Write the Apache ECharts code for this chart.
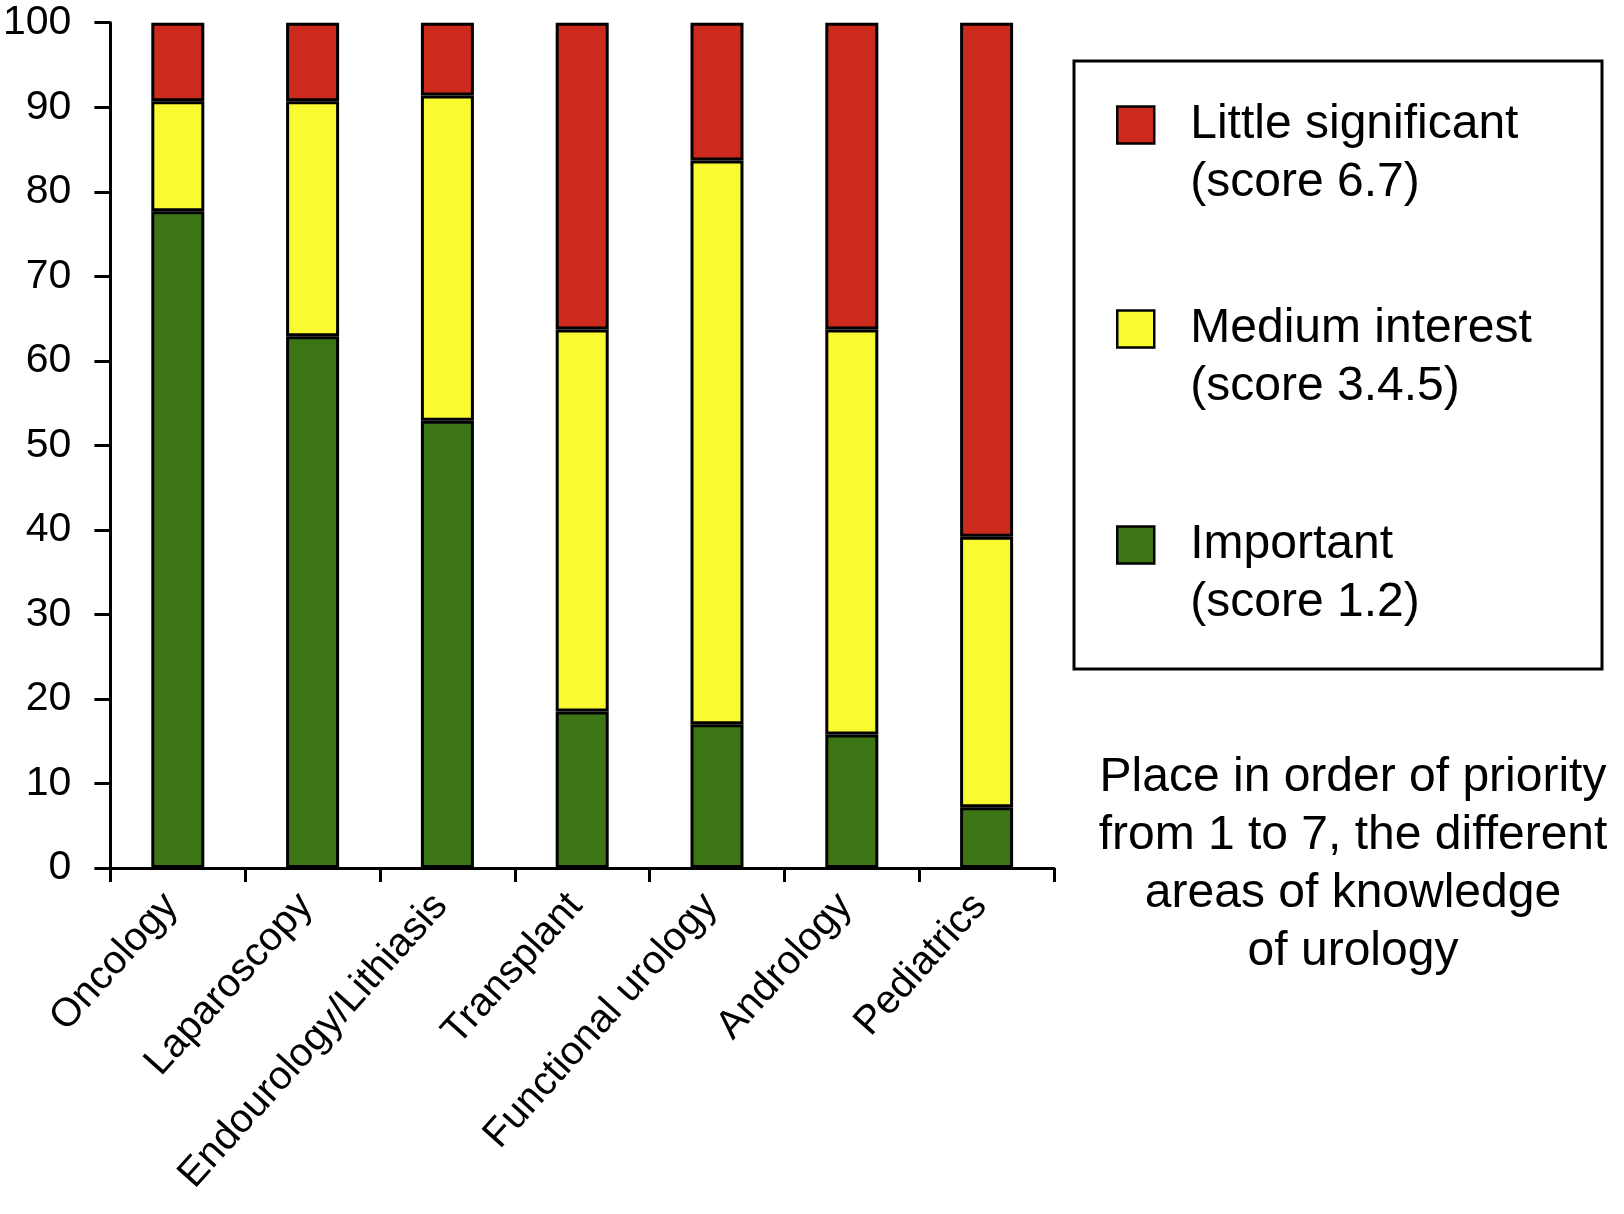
<!DOCTYPE html>
<html>
<head>
<meta charset="utf-8">
<script src="https://cdn.jsdelivr.net/npm/echarts@6/dist/echarts.min.js"></script>
<style>
  html, body { margin: 0; padding: 0; background: #fff; }
  #chart { width: 1624px; height: 1214px; }
</style>
</head>
<body>
<div id="chart"></div>
<script>
const categories = ['Oncology', 'Laparoscopy', 'Endourology/Lithiasis', 'Transplant', 'Functional urology', 'Andrology', 'Pediatrics'];
const seriesNames = ['Little significant\n(score 6.7)', 'Medium interest\n(score 3.4.5)', 'Important\n(score 1.2)'];
// percentages
const important = [77.7, 62.9, 52.9, 18.5, 17.0, 15.8, 7.2];
const medium    = [13.0, 27.8, 38.5, 45.2, 66.7, 47.9, 32.0];
const little    = [9.3, 9.3, 8.6, 36.3, 16.3, 36.3, 60.8];
const yTicks = [0, 10, 20, 30, 40, 50, 60, 70, 80, 90, 100];
const noteText = 'Place in order of priority\nfrom 1 to 7, the different\nareas of knowledge\nof urology';

const colors = { red: '#cc2a1c', yellow: '#fafa32', green: '#3c7614' };
const FONT = 'Liberation Sans, Arial, Helvetica, sans-serif';

const chart = echarts.init(document.getElementById('chart'));

function legendFor(name, top) {
  return {
    data: [name],
    left: 1111,
    top: top,
    orient: 'vertical',
    itemWidth: 37,
    itemHeight: 37,
    selectedMode: false,
    icon: 'rect',
    itemStyle: { borderColor: '#000', borderWidth: 2.5 },
    // leading empty line keeps the swatch level with the first text line
    formatter: (n) => '\n' + n,
    textStyle: {
      fontFamily: FONT, fontSize: 48, color: '#000',
      lineHeight: 58, padding: [0, 0, 0, 31]
    }
  };
}

const barStyle = (c) => ({ color: c, borderColor: '#000', borderWidth: 3 });

chart.setOption({
  animation: false,
  backgroundColor: '#fff',
  grid: { left: 107, right: 570, top: 22.7, bottom: 346, containLabel: false },
  legend: [
    legendFor(seriesNames[0], 33),
    legendFor(seriesNames[1], 237),
    legendFor(seriesNames[2], 453)
  ],
  xAxis: {
    type: 'category',
    data: categories,
    boundaryGap: true,
    axisLine: { lineStyle: { color: '#000', width: 3 } },
    axisTick: { show: true, length: 14, lineStyle: { color: '#000', width: 3 } },
    axisLabel: {
      rotate: 48, interval: 0, margin: 24, padding: [0, 10, 0, 0],
      fontFamily: FONT, fontSize: 40, color: '#000'
    }
  },
  yAxis: {
    type: 'value',
    min: 0, max: 100, interval: 10,
    splitLine: { show: false },
    axisLine: { show: true, lineStyle: { color: '#000', width: 3 } },
    axisTick: { show: true, length: 16, lineStyle: { color: '#000', width: 3 } },
    axisLabel: {
      margin: 39, fontFamily: FONT, fontSize: 41, color: '#000',
      formatter: (v) => yTicks.includes(v) ? String(v) : ''
    }
  },
  series: [
    { name: seriesNames[2], type: 'bar', stack: 'total', barWidth: 53, data: important, itemStyle: barStyle(colors.green) },
    { name: seriesNames[1], type: 'bar', stack: 'total', barWidth: 53, data: medium, itemStyle: barStyle(colors.yellow) },
    { name: seriesNames[0], type: 'bar', stack: 'total', barWidth: 53, data: little, itemStyle: barStyle(colors.red) }
  ],
  graphic: [
    {
      type: 'rect',
      shape: { x: 1074, y: 61, width: 528, height: 608 },
      style: { fill: 'none', stroke: '#000', lineWidth: 3 },
      z: 0
    },
    {
      type: 'text',
      x: 1353, y: 749,
      style: {
        text: noteText,
        fontFamily: FONT, fontSize: 48, lineHeight: 58,
        fill: '#000', textAlign: 'center', textVerticalAlign: 'top'
      }
    }
  ]
});
</script>
</body>
</html>
